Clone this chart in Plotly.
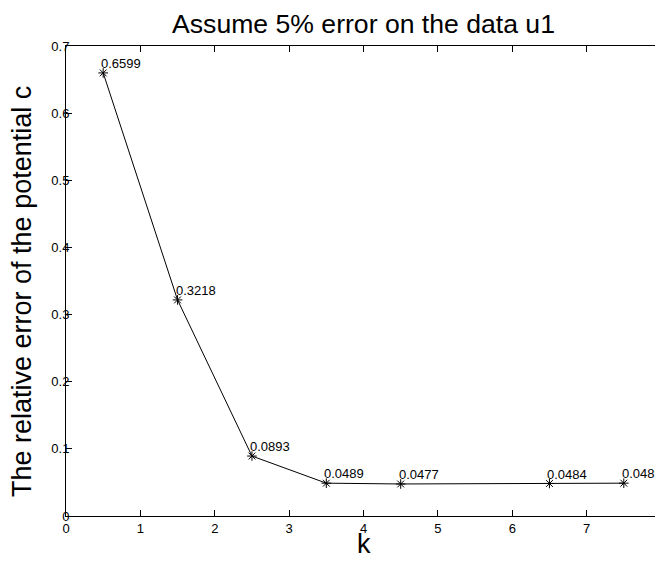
import plotly.graph_objects as go

k_values = [0.5, 1.5, 2.5, 3.5, 4.5, 6.5, 7.5]
rel_error = [0.6599, 0.3218, 0.0893, 0.0489, 0.0477, 0.0484, 0.0489]
labels = ["0.6599", "0.3218", "0.0893", "0.0489", "0.0477", "0.0484", "0.0489"]
x_ticks = [0, 1, 2, 3, 4, 5, 6, 7, 8]
y_ticks = [0, 0.1, 0.2, 0.3, 0.4, 0.5, 0.6, 0.7]
y_tick_text = ["0", "0.1", "0.2", "0.3", "0.4", "0.5", "0.6", "0.7"]

FONT = "Liberation Sans, Arial, Helvetica, sans-serif"

# the page body adds an 8px offset; keep the figure inside the window
W, H = 655, 547
ML, MT, PW, PH = 58, 38, 595, 470

fig = go.Figure()
fig.add_trace(go.Scatter(
    x=k_values, y=rel_error, mode="lines+markers",
    line=dict(color="black", width=1),
    marker=dict(symbol="asterisk-open", size=8, color="black",
                line=dict(color="black", width=1)),
    showlegend=False, hoverinfo="skip",
))

for xv, yv, t in zip(k_values, rel_error, labels):
    fig.add_annotation(x=xv, y=yv, text=t, showarrow=False,
                       xanchor="left", yanchor="bottom", xshift=-4, yshift=0,
                       font=dict(family=FONT, size=13, color="black"))

# y-axis title as a rotated annotation for precise placement
fig.add_annotation(xref="paper", yref="paper",
                   x=(14 - ML) / PW, y=(MT + PH - 284) / PH,
                   text="The relative error of the potential c",
                   textangle=-90, showarrow=False,
                   xanchor="center", yanchor="middle",
                   font=dict(family=FONT, size=27, color="black"))

# x-axis title
fig.add_annotation(xref="paper", yref="paper",
                   x=0.5, y=(MT + PH - 536) / PH,
                   text="k", showarrow=False,
                   xanchor="center", yanchor="middle",
                   font=dict(family=FONT, size=27, color="black"))

axis_common = dict(
    showline=True, linecolor="black", linewidth=1, mirror="ticks",
    ticks="inside", ticklen=6, tickcolor="black", tickwidth=1,
    showgrid=False, zeroline=False, automargin=False,
    tickfont=dict(family=FONT, size=13, color="black"),
)

fig.update_layout(
    width=W, height=H,
    margin=dict(l=ML, r=W - ML - PW, t=MT, b=H - MT - PH),
    paper_bgcolor="white", plot_bgcolor="white",
    font=dict(family=FONT, color="black"),
    title=dict(text="Assume 5% error on the data u1", x=(ML + PW / 2) / W,
               xanchor="center", y=1 - 16 / H, yanchor="middle",
               font=dict(family=FONT, size=26.6, color="black")),
    xaxis=dict(range=[0, 8], tickvals=x_ticks, ticktext=[str(v) for v in x_ticks],
               ticklabelstandoff=0,
               **axis_common),
    yaxis=dict(range=[0, 0.7], tickvals=y_ticks, ticktext=y_tick_text,
               ticklabelstandoff=-7,
               **axis_common),
)

fig.write_html("out.html")
